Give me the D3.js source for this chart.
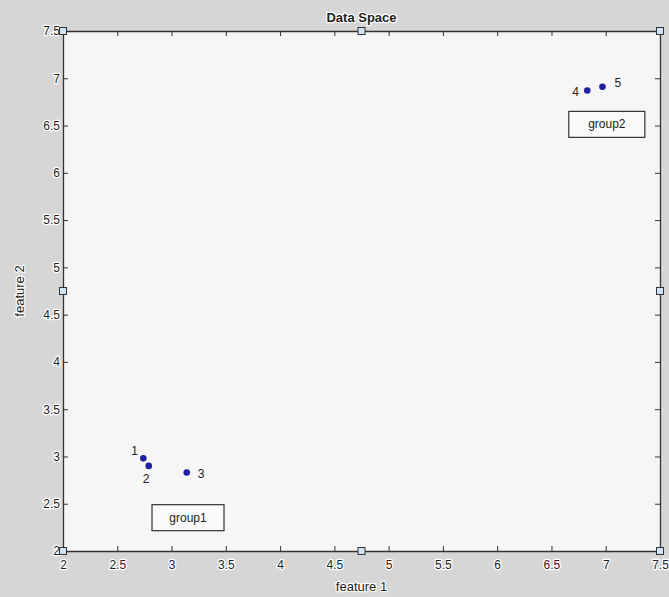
<!DOCTYPE html>
<html>
<head>
<meta charset="utf-8">
<script src="https://cdn.jsdelivr.net/npm/d3@7"></script>
<style>
  body { margin: 0; background: #d6d6d6; }
  text { font-family: "Liberation Sans", Arial, sans-serif; }
  .halo { paint-order: stroke; stroke: #ffffff; stroke-width: 2.5px; stroke-linejoin: round; }
</style>
</head>
<body>
<svg id="chart"></svg>
<script>
// point data
const pointIds = ["1", "2", "3", "4", "5"];
const featureOne = [2.74, 2.79, 3.14, 6.83, 6.97];
const featureTwo = [2.98, 2.90, 2.83, 6.87, 6.91];
const groupNames = ["group1", "group2"];
const xTicks = [2, 2.5, 3, 3.5, 4, 4.5, 5, 5.5, 6, 6.5, 7, 7.5];
const yTicks = [2, 2.5, 3, 3.5, 4, 4.5, 5, 5.5, 6, 6.5, 7, 7.5];

const width = 669, height = 597;
const margin = { top: 31, right: 9, bottom: 46, left: 63 };

const svg = d3.select("#chart").attr("width", width).attr("height", height);

const x = d3.scaleLinear().domain([2, 7.5]).range([margin.left, width - margin.right]);
const y = d3.scaleLinear().domain([2, 7.5]).range([height - margin.bottom, margin.top]);

//plot area background
svg.append("rect")
    .attr("x", x(2)).attr("y", y(7.5))
    .attr("width", x(7.5) - x(2)).attr("height", y(2) - y(7.5))
    .attr("fill", "#f6f6f6");

//axes with inward ticks on all four sides
const axisCol = "#333";
function styleAxis(g) {
    g.selectAll("path").attr("stroke", axisCol).attr("stroke-width", 1.3);
    g.selectAll("line").attr("stroke", axisCol);
    g.selectAll("text").attr("fill", "#222").attr("font-size", 12).attr("class", "halo");
}

svg.append("g")
    .attr("transform", `translate(0,${y(2)})`)
    .call(d3.axisBottom(x).tickValues(xTicks).tickSizeInner(-5).tickSizeOuter(0).tickPadding(9).tickFormat(d3.format("")))
    .call(styleAxis);

svg.append("g")
    .attr("transform", `translate(0,${y(7.5)})`)
    .call(d3.axisTop(x).tickValues(xTicks).tickSizeInner(-5).tickSizeOuter(0).tickFormat(""))
    .call(styleAxis);

svg.append("g")
    .attr("transform", `translate(${x(2)},0)`)
    .call(d3.axisLeft(y).tickValues(yTicks).tickSizeInner(-5).tickSizeOuter(0).tickPadding(3).tickFormat(d3.format("")))
    .call(styleAxis);

svg.append("g")
    .attr("transform", `translate(${x(7.5)},0)`)
    .call(d3.axisRight(y).tickValues(yTicks).tickSizeInner(-5).tickSizeOuter(0).tickFormat(""))
    .call(styleAxis);

//title and axis labels
svg.append("text")
    .attr("x", (x(2) + x(7.5)) / 2).attr("y", y(7.5) - 9)
    .attr("text-anchor", "middle").attr("font-size", 13).attr("font-weight", "bold")
    .attr("class", "halo").attr("fill", "#222")
    .text("Data Space");

svg.append("text")
    .attr("x", (x(2) + x(7.5)) / 2).attr("y", height - 6)
    .attr("text-anchor", "middle").attr("font-size", 13)
    .attr("class", "halo").attr("fill", "#222")
    .text("feature 1");

svg.append("text")
    .attr("transform", `translate(24,${(y(2) + y(7.5)) / 2}) rotate(-90)`)
    .attr("text-anchor", "middle").attr("font-size", 13)
    .attr("class", "halo").attr("fill", "#222")
    .text("feature 2");

//points
const pts = pointIds.map((id, i) => ({ id: id, fx: featureOne[i], fy: featureTwo[i] }));
svg.selectAll(".pt")
    .data(pts)
    .enter().append("circle")
    .attr("class", "pt")
    .attr("cx", d => x(d.fx)).attr("cy", d => y(d.fy))
    .attr("r", 3.3)
    .attr("fill", "#1f1fa0");

//point labels, offset per point as in the picture
const labelOffsets = [[-12, -3], [-6, 17], [11, 5], [-15, 5], [12, 0]];
svg.selectAll(".lab")
    .data(pts)
    .enter().append("text")
    .attr("x", (d, i) => x(d.fx) + labelOffsets[i][0])
    .attr("y", (d, i) => y(d.fy) + labelOffsets[i][1])
    .attr("font-size", 12).attr("fill", "#222")
    .text(d => d.id);

//group text boxes (top-left corner in data units)
const groupBoxes = [
    { name: groupNames[0], fx: 2.82, fy: 2.49, w: 72 },
    { name: groupNames[1], fx: 6.66, fy: 6.65, w: 76 }
];
const gb = svg.selectAll(".gbox")
    .data(groupBoxes)
    .enter().append("g")
    .attr("transform", d => `translate(${x(d.fx)},${y(d.fy)})`);
gb.append("rect")
    .attr("x", 0).attr("y", 0).attr("width", d => d.w).attr("height", 26)
    .attr("fill", "#fafafa").attr("stroke", "#333").attr("stroke-width", 1.2);
gb.append("text")
    .attr("x", d => d.w / 2).attr("y", 17)
    .attr("text-anchor", "middle").attr("font-size", 12).attr("fill", "#222")
    .text(d => d.name);

//selection handles on the axes box
const hx = [2, 4.75, 7.5];
const hy = [2, 4.75, 7.5];
const handles = [];
hx.forEach(a => hy.forEach(b => { if (!(a === 4.75 && b === 4.75)) handles.push([a, b]); }));
svg.selectAll(".handle")
    .data(handles)
    .enter().append("rect")
    .attr("x", d => x(d[0]) - 3.5).attr("y", d => y(d[1]) - 3.5)
    .attr("width", 7).attr("height", 7)
    .attr("fill", "#cfe3f5").attr("stroke", "#333").attr("stroke-width", 1);
</script>
</body>
</html>
